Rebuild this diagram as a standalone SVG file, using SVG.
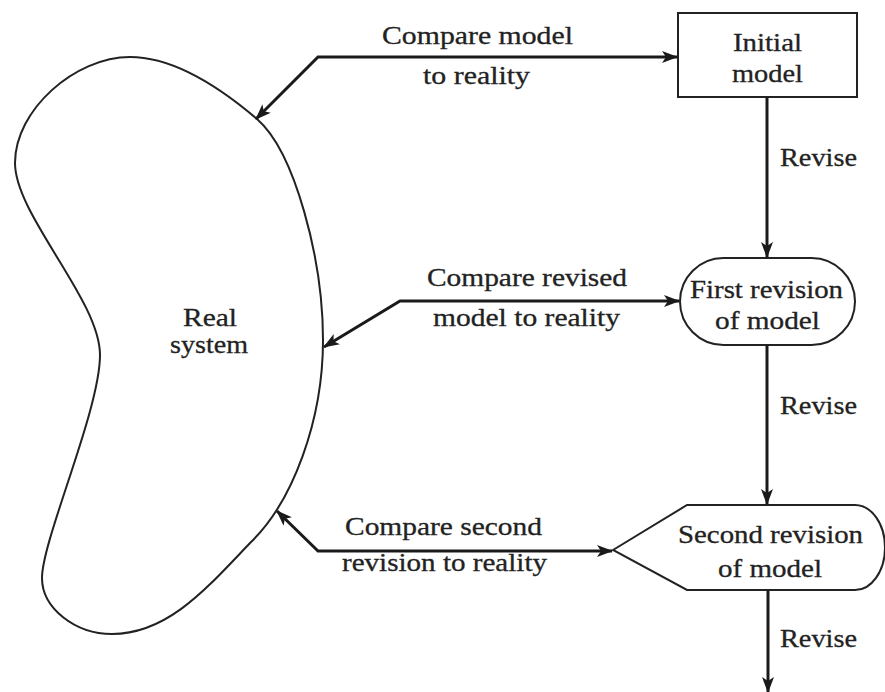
<svg xmlns="http://www.w3.org/2000/svg" width="885" height="692" viewBox="0 0 885 692">
<style>
.shape{fill:none;stroke:#222;stroke-width:2}
.conn{fill:none;stroke:#1a1a1a;stroke-width:3;stroke-linejoin:miter}
text{font-family:"Liberation Serif","Times New Roman",serif;font-size:25px;fill:#222;stroke:#222;stroke-width:0.3}
</style>
<defs>
<marker id="ah" viewBox="0 0 16 12" refX="15" refY="6" markerWidth="16" markerHeight="12" markerUnits="userSpaceOnUse" orient="auto-start-reverse">
<path d="M0,0 L16,6 L0,12 L4,6 Z" fill="#1a1a1a"/>
</marker>
</defs>
<rect width="885" height="692" fill="#fff"/>
<g id="real-system">
<path class="shape" d="M130,57 C175,57 223,90 257,119 C295,152 323,260 323,340 C323,420 293,502 250,543 C207,588 168,634 112,634 C75,634 42,608 42,578 C42,540 100,410 100,355 C100,300 15,215 15,163 C15,110 75,57 130,57 Z"/>
<text x="183" y="326" textLength="54" lengthAdjust="spacingAndGlyphs">Real</text>
<text x="170" y="353" textLength="78" lengthAdjust="spacingAndGlyphs">system</text>
</g>
<g id="initial-model">
<rect class="shape" x="678" y="13" width="179" height="84"/>
<text x="733" y="51" textLength="69" lengthAdjust="spacingAndGlyphs">Initial</text>
<text x="732" y="82" textLength="71" lengthAdjust="spacingAndGlyphs">model</text>
</g>
<g id="first-revision">
<rect class="shape" x="680" y="258" width="175" height="87" rx="43.5" ry="43.5"/>
<text x="690" y="298" textLength="153" lengthAdjust="spacingAndGlyphs">First revision</text>
<text x="715" y="329" textLength="105" lengthAdjust="spacingAndGlyphs">of model</text>
</g>
<g id="second-revision">
<path class="shape" d="M613,550 L687,505 L855,505 A30,42.5 0 0 1 855,590 L687,590 Z"/>
<text x="678" y="543" textLength="185" lengthAdjust="spacingAndGlyphs">Second revision</text>
<text x="718" y="577" textLength="104" lengthAdjust="spacingAndGlyphs">of model</text>
</g>
<g id="connectors">
<path class="conn" d="M256,119 L318,57 L677,57" marker-start="url(#ah)" marker-end="url(#ah)"/>
<path class="conn" d="M324,347 L400,301 L679,301" marker-start="url(#ah)" marker-end="url(#ah)"/>
<path class="conn" d="M277,511 L318,551 L612,551" marker-start="url(#ah)" marker-end="url(#ah)"/>
<path class="conn" d="M767,97 L767,257" marker-end="url(#ah)"/>
<path class="conn" d="M767,345 L767,504" marker-end="url(#ah)"/>
<path class="conn" d="M768,590 L768,692" marker-end="url(#ah)"/>
</g>
<g id="labels">
<text x="382" y="44" textLength="191" lengthAdjust="spacingAndGlyphs">Compare model</text>
<text x="423" y="84" textLength="107" lengthAdjust="spacingAndGlyphs">to reality</text>
<text x="427" y="286" textLength="200" lengthAdjust="spacingAndGlyphs">Compare revised</text>
<text x="433" y="326" textLength="187" lengthAdjust="spacingAndGlyphs">model to reality</text>
<text x="345" y="535" textLength="197" lengthAdjust="spacingAndGlyphs">Compare second</text>
<text x="342" y="571" textLength="205" lengthAdjust="spacingAndGlyphs">revision to reality</text>
<text x="780" y="166" textLength="77" lengthAdjust="spacingAndGlyphs">Revise</text>
<text x="780" y="414" textLength="77" lengthAdjust="spacingAndGlyphs">Revise</text>
<text x="780" y="647" textLength="77" lengthAdjust="spacingAndGlyphs">Revise</text>
</g>
</svg>
